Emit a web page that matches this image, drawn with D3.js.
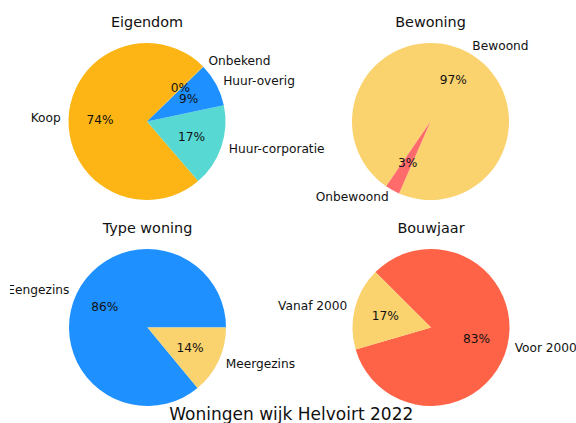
<!DOCTYPE html>
<html>
<head>
<meta charset="utf-8">
<script src="https://cdn.jsdelivr.net/npm/d3@7"></script>
<style>
  html, body { margin: 0; padding: 0; background: #fff; }
  svg { display: block; font-family: "DejaVu Sans", sans-serif; }
</style>
</head>
<body>
<svg id="chart" width="576" height="423"></svg>
<script>
// ---- data ----
const eigendomLabels = ["Koop", "Huur-corporatie", "Huur-overig", "Onbekend"];
const eigendomValues = [73.8, 17.0, 9.0, 0.2];

const bewoningLabels = ["Bewoond", "Onbewoond"];
const bewoningValues = [97, 3];

const typeLabels = ["Eengezins", "Meergezins"];
const typeValues = [86, 14];

const bouwjaarLabels = ["Voor 2000", "Vanaf 2000"];
const bouwjaarValues = [83, 17];

const suptitle = "Woningen wijk Helvoirt 2022";

// ---- layout / style ----
const W = 576, H = 423;
const R = 78.5;
const panels = [
  { title: "Eigendom",    labels: eigendomLabels, values: eigendomValues,
    colors: ["#FDB515", "#57D8D2", "#1E90FF", "#FDB515"], start: 45,     cx: 147,   cy: 121.5, ty: 27 },
  { title: "Bewoning",    labels: bewoningLabels, values: bewoningValues,
    colors: ["#FAD26E", "#FF6B6B"],                       start: -113.6, cx: 430.5, cy: 121.5, ty: 27 },
  { title: "Type woning", labels: typeLabels,     values: typeValues,
    colors: ["#1E90FF", "#FAD26E"],                       start: 0,      cx: 147.5, cy: 327.5, ty: 232.5 },
  { title: "Bouwjaar",    labels: bouwjaarLabels, values: bouwjaarValues,
    colors: ["#FF6347", "#FAD26E"],                       start: 196.3,  cx: 431,   cy: 327.5, ty: 232.5 }
];

const svg = d3.select("#chart");
svg.append("defs").append("clipPath").attr("id", "fig")
  .append("rect").attr("x", 10).attr("y", 0).attr("width", W).attr("height", H);
const root = svg.append("g").attr("clip-path", "url(#fig)");
root.append("rect").attr("width", W).attr("height", H).attr("fill", "#fff");

const arc = d3.arc().innerRadius(0).outerRadius(R);
const fmt = d3.format(".0f");

panels.forEach(p => {
  const a0 = (90 - p.start) * Math.PI / 180;   // matplotlib startangle -> d3 angle
  const pie = d3.pie().sort(null).value(d => d.v)
    .startAngle(a0).endAngle(a0 - 2 * Math.PI);  // counter-clockwise
  const data = p.values.map((v, i) => ({ v, label: p.labels[i], color: p.colors[i] }));
  const total = d3.sum(p.values);
  const arcs = pie(data);
  const g = root.append("g").attr("transform", `translate(${p.cx},${p.cy})`);

  g.selectAll("path").data(arcs).join("path")
    .attr("d", arc)
    .attr("fill", d => d.data.color);

  // outer labels at 1.1 r
  g.selectAll("text.lab").data(arcs).join("text")
    .attr("class", "lab")
    .each(function(d) {
      const m = (d.startAngle + d.endAngle) / 2;
      const x = 1.1 * R * Math.sin(m), y = -1.1 * R * Math.cos(m);
      d3.select(this).attr("x", x).attr("y", y)
        .attr("text-anchor", x > 0 ? "start" : "end");
    })
    .attr("dy", "0.3em")
    .attr("font-size", 12.2)
    .attr("fill", "#111")
    .text(d => d.data.label);

  // percentage labels at 0.6 r
  g.selectAll("text.pct").data(arcs).join("text")
    .attr("class", "pct")
    .each(function(d) {
      const m = (d.startAngle + d.endAngle) / 2;
      d3.select(this).attr("x", 0.6 * R * Math.sin(m)).attr("y", -0.6 * R * Math.cos(m));
    })
    .attr("dy", "0.33em")
    .attr("text-anchor", "middle")
    .attr("font-size", 12.2)
    .attr("fill", "#111")
    .text(d => fmt(d.data.v / total * 100) + "%");

  root.append("text")
    .attr("x", p.cx).attr("y", p.ty)
    .attr("text-anchor", "middle")
    .attr("font-size", 14.4)
    .attr("fill", "#111")
    .text(p.title);
});

root.append("text")
  .attr("x", 291.3).attr("y", 420.3)
  .attr("text-anchor", "middle")
  .attr("font-size", 17)
  .attr("fill", "#111")
  .text(suptitle);
</script>
</body>
</html>
